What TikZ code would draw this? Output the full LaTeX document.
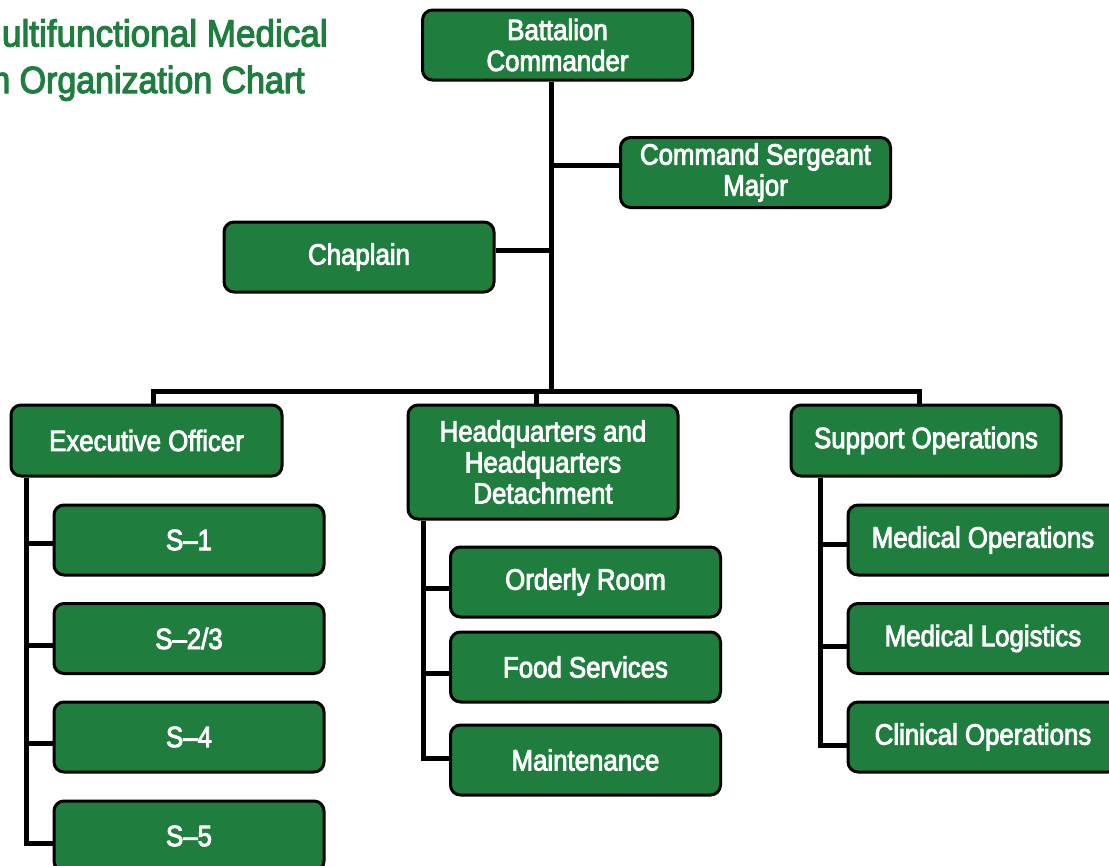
\documentclass[tikz,border=0pt]{standalone}
\usepackage{fontspec}
\setmainfont[FakeStretch=0.88, FakeBold=3]{Liberation Sans}
\newfontfamily\titlefont[FakeStretch=0.93, FakeBold=3]{Liberation Sans}
\newfontfamily\titlefontb[FakeStretch=0.90, FakeBold=3]{Liberation Sans}
\usetikzlibrary{backgrounds}
\definecolor{armygreen}{RGB}{31,125,62}
\tikzset{
  orgbox/.style={draw=black, line width=2.25pt, fill=armygreen, rounded corners=7.5pt,
    text=white, align=center, inner sep=0pt, minimum width=202.5pt, minimum height=52.5pt,
    font=\fontsize{22}{23.25}\selectfont},
  conn/.style={draw=black, line width=3.75pt},
  titletext/.style={text=armygreen, font=\titlefont\fontsize{28.3}{30}\selectfont, inner sep=0pt}
}
\begin{document}
\begin{tikzpicture}[x=0.75pt, y=-0.75pt]
\useasboundingbox (0,0) rectangle (1109,865);
\clip (0,0) rectangle (1109,865);

% title (cropped at left edge)
\node[titletext, anchor=base east] (title1) at (328,46.5) {Multifunctional Medical};
\node[titletext, font=\titlefontb\fontsize{28.3}{30}\selectfont, anchor=base east] (title2) at (305,93) {Battalion Organization Chart};

% top level
\node[orgbox] (bc) at (557.5,45) {Battalion\\Commander};
\node[orgbox] (csm) at (755.5,172.5) {Command Sergeant\\Major};
\node[orgbox] (chap) at (359,257) {Chaplain};

% second level
\node[orgbox, minimum width=203.25pt, minimum height=53.25pt] (xo) at (146.5,440.5) {Executive Officer};
\node[orgbox, minimum height=85.5pt] (hq) at (543,462) {Headquarters and\\Headquarters\\Detachment};
\node[orgbox, minimum height=53.25pt] (so) at (926,440.5) {Support Operations};

% executive officer staff
\node[orgbox] (s1) at (189,540) {S--1};
\node[orgbox] (s23) at (189,638.5) {S--2/3};
\node[orgbox] (s4) at (189,737) {S--4};
\node[orgbox] (s5) at (189,836) {S--5};

% HHD sections
\node[orgbox] (orm) at (585.5,582) {Orderly Room};
\node[orgbox] (fs) at (585.5,667) {Food Services};
\node[orgbox] (mt) at (585.5,760) {Maintenance};

% support operations sections
\node[orgbox] (mo) at (983,540) {Medical Operations};
\node[orgbox] (ml) at (983,638.5) {Medical Logistics};
\node[orgbox] (co) at (983,737) {Clinical Operations};

% connector coordinates
\coordinate (trunk) at (551,391);
\coordinate (busL) at (153,391);
\coordinate (busR) at (919,391);
\coordinate (hqdrop) at (536,391);
\coordinate (spX) at (26,843);
\coordinate (spH) at (423,758);
\coordinate (spS) at (820,745);

\begin{scope}[on background layer]
  \draw[conn] (bc.south -| trunk) -- (trunk);
  \draw[conn] (trunk |- 0,165) -- (csm.west |- 0,165);
  \draw[conn] (chap.east |- 0,250) -- (trunk |- 0,250);
  \draw[conn, line join=miter] (xo.north -| busL) -- (busL) -- (busR) -- (so.north -| busR);
  \draw[conn] (hqdrop) -- (hq.north -| hqdrop);
  % executive officer spine
  \draw[conn, line join=miter] (xo.south -| spX) -- (spX) -- (s5.west |- spX);
  \draw[conn] (spX |- 0,543) -- (s1.west |- 0,543);
  \draw[conn] (spX |- 0,645) -- (s23.west |- 0,645);
  \draw[conn] (spX |- 0,743) -- (s4.west |- 0,743);
  % HHD spine
  \draw[conn, line join=miter] (hq.south -| spH) -- (spH) -- (mt.west |- spH);
  \draw[conn] (spH |- 0,588) -- (orm.west |- 0,588);
  \draw[conn] (spH |- 0,673) -- (fs.west |- 0,673);
  % support operations spine
  \draw[conn, line join=miter] (so.south -| spS) -- (spS) -- (co.west |- spS);
  \draw[conn] (spS |- 0,544) -- (mo.west |- 0,544);
  \draw[conn] (spS |- 0,646) -- (ml.west |- 0,646);
\end{scope}
\end{tikzpicture}
\end{document}
